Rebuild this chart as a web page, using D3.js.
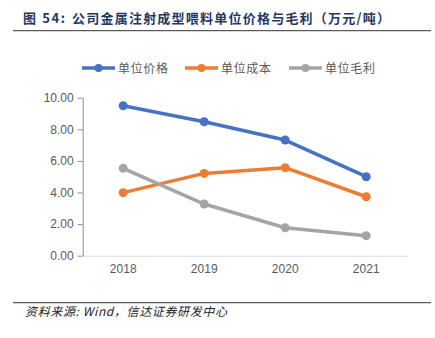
<!DOCTYPE html>
<html><head><meta charset="utf-8">
<script src="https://cdn.jsdelivr.net/npm/d3@7"></script>
<style>body{margin:0;background:#fff}svg{display:block}</style>
</head><body>
<script>
const years = ["2018","2019","2020","2021"];
const seriesNames = ["单位价格","单位成本","单位毛利"];
const priceVals = [9.49, 8.48, 7.32, 5.00];
const costVals = [3.99, 5.21, 5.57, 3.73];
const marginVals = [5.53, 3.27, 1.77, 1.27];
const yTicks = [0, 2, 4, 6, 8, 10];
const colors = ["#4472c4", "#ed7d31", "#a5a5a5"];
const titleLabel = "图 54:";
const titleText = "公司金属注射成型喂料单位价格与毛利（万元/吨）";
const sourceText = "资料来源: Wind，信达证券研发中心";

const W = 435, H = 338;
const svg = d3.select("body").append("svg").attr("width", W).attr("height", H);
const cjk = "'Noto Sans CJK SC', sans-serif";

svg.append("text").attr("x", 23).attr("y", 23).attr("font-family", cjk)
  .attr("font-size", 13).attr("font-weight", "bold").attr("fill", "#1f3864")
  .attr("textLength", 42).attr("lengthAdjust", "spacing").text(titleLabel);
svg.append("text").attr("x", 72).attr("y", 23).attr("font-family", cjk)
  .attr("font-size", 13).attr("font-weight", "bold").attr("fill", "#1f3864")
  .attr("textLength", 318).attr("lengthAdjust", "spacing").text(titleText);
svg.append("line").attr("x1", 13).attr("x2", 431).attr("y1", 30.7).attr("y2", 30.7)
  .attr("stroke", "#333").attr("stroke-width", 1);

const x = d3.scaleBand().domain(years).range([82.7, 406.7]);
const y = d3.scaleLinear().domain([0, 10]).range([255.7, 97.7]);

svg.append("g").attr("transform", "translate(0,255.7)")
  .call(d3.axisBottom(x).tickSize(0).tickPadding(9))
  .call(g => g.select(".domain").attr("stroke", "#d9d9d9"))
  .call(g => g.selectAll("text").attr("font-family", "'Liberation Sans', Arial, sans-serif").attr("font-size", 12).attr("fill", "#595959"));

svg.append("g").attr("transform", "translate(82.7,0)")
  .call(d3.axisLeft(y).tickValues(yTicks).tickFormat(d3.format(".2f")).tickSize(5).tickSizeOuter(0).tickPadding(4))
  .call(g => g.select(".domain").attr("stroke", "#8c8c8c"))
  .call(g => g.selectAll(".tick line").attr("stroke", "#8c8c8c"))
  .call(g => g.selectAll("text").attr("font-family", "'Liberation Sans', Arial, sans-serif").attr("font-size", 12).attr("fill", "#595959"));

const allSeries = [priceVals, costVals, marginVals];
const line = d3.line().x((d, i) => x(years[i]) + x.bandwidth() / 2).y(d => y(d));
allSeries.forEach((vals, si) => {
  svg.append("path").attr("d", line(vals)).attr("fill", "none")
    .attr("stroke", colors[si]).attr("stroke-width", 3.5).attr("stroke-linejoin", "round");
  svg.selectAll(null).data(vals).enter().append("circle")
    .attr("cx", (d, i) => x(years[i]) + x.bandwidth() / 2).attr("cy", d => y(d))
    .attr("r", 4.5).attr("fill", colors[si]);
});

const legX = [82, 185, 289];
seriesNames.forEach((name, i) => {
  const g = svg.append("g").attr("transform", `translate(${legX[i]},68)`);
  g.append("line").attr("x1", 0).attr("x2", 33).attr("stroke", colors[i]).attr("stroke-width", 3.5);
  g.append("circle").attr("cx", 16.5).attr("r", 4).attr("fill", colors[i]);
  g.append("text").attr("x", 36).attr("y", 4.5).attr("font-family", cjk).attr("font-size", 12)
    .attr("fill", "#595959").attr("textLength", 50).attr("lengthAdjust", "spacing").text(name);
});

svg.append("line").attr("x1", 13).attr("x2", 431).attr("y1", 302.7).attr("y2", 302.7)
  .attr("stroke", "#333").attr("stroke-width", 1);
svg.append("text").attr("x", 25).attr("y", 316).attr("font-family", cjk)
  .attr("font-size", 12).attr("font-style", "italic").attr("fill", "#222")
  .attr("textLength", 202).attr("lengthAdjust", "spacing").text(sourceText);
</script>
</body></html>
